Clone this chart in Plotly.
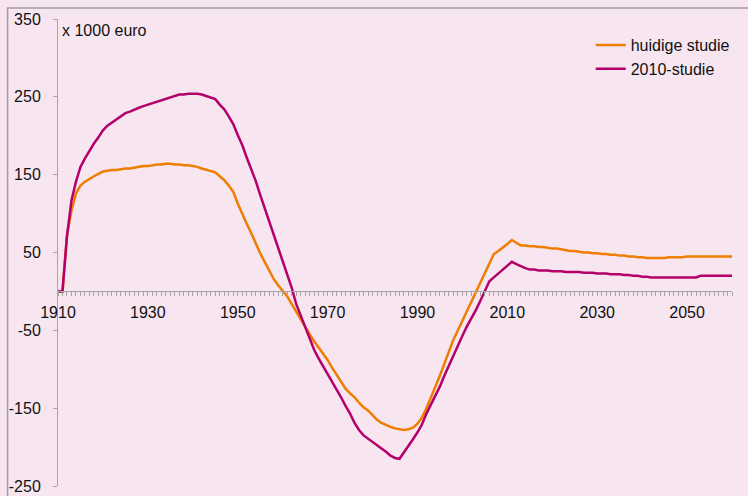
import plotly.graph_objects as go

years = list(range(1910, 2061))

huidige_studie = [
    0, 0, 72, 104, 126, 136, 141, 145, 148, 151,            # 1910-1919
    154, 155, 156, 156, 157, 158, 158, 159, 160, 161,       # 1920-1929
    161, 162, 163, 163, 164, 164, 163, 163, 162, 162,       # 1930-1939
    161, 160, 158, 156, 155, 153, 148, 143, 136, 128,       # 1940-1949
    113, 99, 87, 75, 61, 49, 38, 27, 16, 8,                 # 1950-1959
    1, -6, -16, -26, -36, -46, -55, -64, -72, -80,          # 1960-1969
    -88, -98, -107, -115, -125, -131, -136, -143, -149, -153,  # 1970-1979
    -159, -165, -169, -172, -174, -176, -177, -178, -177, -175,  # 1980-1989
    -170, -162, -150, -137, -122, -108, -93, -77, -62, -50,  # 1990-1999
    -38, -26, -14, -2, 10, 22, 36, 48, 52, 56,              # 2000-2009
    61, 66, 62, 59, 59, 58, 58, 57, 57, 56,                 # 2010-2019
    55, 55, 54, 53, 52, 52, 51, 50, 50, 49,                 # 2020-2029
    49, 48, 48, 47, 47, 46, 46, 45, 45, 44,                 # 2030-2039
    44, 43, 43, 43, 43, 43, 44, 44, 44, 44,                 # 2040-2049
    45, 45, 45, 45, 45, 45, 45, 45, 45, 45,                 # 2050-2059
    45,                                                     # 2060
]

studie_2010 = [
    0, 0, 71, 117, 141, 160, 171, 181, 190, 198,            # 1910-1919
    207, 213, 217, 221, 225, 229, 231, 234, 236, 238,       # 1920-1929
    240, 242, 244, 246, 248, 250, 252, 253, 253, 254,       # 1930-1939
    254, 254, 253, 251, 249, 247, 240, 234, 225, 215,       # 1940-1949
    201, 188, 172, 158, 142, 124, 107, 90, 72, 54,          # 1950-1959
    37, 22, 5, -16, -31, -47, -62, -75, -86, -96,           # 1960-1969
    -105, -115, -125, -136, -147, -157, -169, -178, -185, -189,  # 1970-1979
    -193, -197, -202, -206, -211, -214, -215, -207, -198, -190,  # 1980-1989
    -181, -171, -157, -146, -134, -122, -108, -95, -81, -69,  # 1990-1999
    -57, -45, -35, -24, -12, 1, 13, 18, 23, 28,             # 2000-2009
    32, 38, 35, 32, 30, 28, 28, 27, 27, 27,                 # 2010-2019
    26, 26, 26, 25, 25, 25, 25, 24, 24, 24,                 # 2020-2029
    23, 23, 23, 22, 22, 22, 21, 21, 20, 20,                 # 2030-2039
    19, 19, 18, 18, 18, 18, 18, 18, 18, 18,                 # 2040-2049
    18, 18, 18, 20, 20, 20, 20, 20, 20, 20,                 # 2050-2059
    20,                                                     # 2060
]

series_names = ["huidige studie", "2010-studie"]
series_colors = ["#EE7D00", "#B4006A"]
y_ticks = [350, 250, 150, 50, -50, -150, -250]
x_tick_labels = [1910, 1930, 1950, 1970, 1990, 2010, 2030, 2050]
unit_label = "x 1000 euro"

BG = "#F7E5F0"
AXIS = "#A6A6A6"
FONT = "Liberation Sans, Arial, sans-serif"

fig = go.Figure()
for name, vals, col in zip(series_names, [huidige_studie, studie_2010], series_colors):
    fig.add_trace(go.Scatter(x=years, y=vals, mode="lines", name=name,
                             line=dict(color=col, width=2.5), hoverinfo="skip"))

W, H = 748, 496
L, R, T, B = 57.5, 15.5, 19, 9.5
pw, ph = W - L - R, H - T - B
ymin, ymax = -250, 350
zero_pos = (0 - ymin) / (ymax - ymin)

fig.update_layout(
    width=W, height=H,
    margin=dict(l=L, r=R, t=T, b=B, pad=0, autoexpand=False),
    paper_bgcolor=BG, plot_bgcolor=BG,
    font=dict(family=FONT, size=16, color="#111111"),
    showlegend=True,
    legend=dict(x=(591 - L) / pw, y=1 - (28 - T) / ph, xanchor="left", yanchor="top",
                bgcolor="rgba(0,0,0,0)", font=dict(size=16, family=FONT, color="#111111"),
                tracegroupgap=0),
    xaxis=dict(range=[1910, 2060], anchor="free", position=zero_pos, automargin=False,
               showline=True, linecolor=AXIS, linewidth=1,
               showgrid=False, zeroline=False,
               tickmode="array", tickvals=x_tick_labels, ticktext=[str(v) for v in x_tick_labels],
               ticks="outside", ticklen=4, tickcolor=AXIS, tickwidth=1,
               minor=dict(dtick=1, tick0=1910, ticks="outside", ticklen=4, tickcolor=AXIS, tickwidth=1, showgrid=False),
               ticklabelstandoff=2,
               tickfont=dict(size=16, family=FONT, color="#111111")),
    yaxis=dict(range=[ymin, ymax], automargin=False, showline=True, linecolor=AXIS, linewidth=1,
               showgrid=False, zeroline=False,
               tickmode="array", tickvals=y_ticks, ticktext=[str(v) for v in y_ticks],
               ticks="outside", ticklen=4, tickcolor=AXIS, tickwidth=1,
               ticklabelstandoff=9,
               tickfont=dict(size=16, family=FONT, color="#111111")),
)

# outer chart border (grey), only top/left visible in the crop
fig.add_shape(type="rect", xref="paper", yref="paper",
              x0=(7 - L) / pw, x1=2, y0=-1, y1=1 + (T - 8) / ph,
              line=dict(color="#9E9E9E", width=1.5), fillcolor="rgba(0,0,0,0)", layer="below")

fig.add_annotation(text=unit_label, xref="paper", yref="paper",
                   x=(60 - L) / pw, y=1 - (31 - T) / ph, xanchor="left", yanchor="middle",
                   showarrow=False, font=dict(size=16, family=FONT, color="#111111"))

fig.write_html("out.html", config={"displayModeBar": False},
               post_script="document.body.style.margin='0px';document.body.style.padding='0px';document.documentElement.style.overflow='hidden';")
